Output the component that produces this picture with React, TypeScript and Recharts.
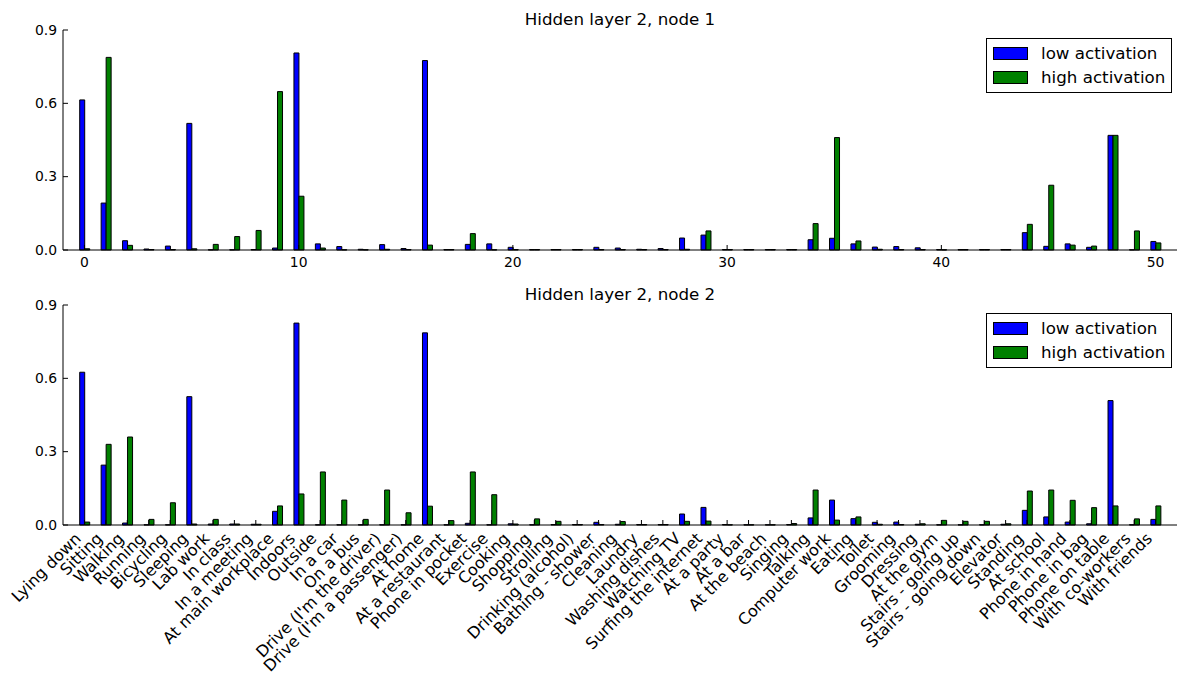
import { Bar, BarChart, Legend, XAxis, YAxis } from "recharts";

const FONT = "'DejaVu Sans', sans-serif";

const activities = [
  "Lying down", "Sitting", "Walking", "Running", "Bicycling", "Sleeping", "Lab work",
  "In class", "In a meeting", "At main workplace", "Indoors", "Outside", "In a car",
  "On a bus", "Drive (I'm the driver)", "Drive (I'm a passenger)", "At home",
  "At a restaurant", "Phone in pocket", "Exercise", "Cooking", "Shopping", "Strolling",
  "Drinking (alcohol)", "Bathing - shower", "Cleaning", "Laundry", "Washing dishes",
  "Watching TV", "Surfing the internet", "At a party", "At a bar", "At the beach",
  "Singing", "Talking", "Computer work", "Eating", "Toilet", "Grooming", "Dressing",
  "At the gym", "Stairs - going up", "Stairs - going down", "Elevator", "Standing",
  "At school", "Phone in hand", "Phone in bag", "Phone on table", "With co-workers",
  "With friends",
];

// hidden layer 2, node 1
const node1Low = [
  0.614, 0.192, 0.038, 0.004, 0.016, 0.518, 0.001, 0.001, 0.002, 0.008,
  0.806, 0.025, 0.014, 0.003, 0.022, 0.006, 0.775, 0.002, 0.023, 0.025,
  0.011, 0.002, 0.002, 0.002, 0.011, 0.008, 0.003, 0.006, 0.049, 0.061,
  0.002, 0.002, 0.002, 0.002, 0.042, 0.048, 0.025, 0.012, 0.014, 0.009,
  0.002, 0.002, 0.002, 0.002, 0.071, 0.015, 0.025, 0.011, 0.469, 0.001,
  0.035,
];
const node1High = [
  0.005, 0.788, 0.019, 0.002, 0.002, 0.005, 0.023, 0.055, 0.08, 0.648,
  0.22, 0.008, 0.001, 0.001, 0.003, 0.002, 0.02, 0.002, 0.067, 0.001,
  0.002, 0.002, 0.002, 0.002, 0.002, 0.002, 0.002, 0.002, 0.003, 0.078,
  0.002, 0.002, 0.002, 0.002, 0.108, 0.46, 0.037, 0.003, 0.002, 0.002,
  0.001, 0.002, 0.002, 0.002, 0.105, 0.265, 0.02, 0.016, 0.469, 0.078,
  0.029,
];

// hidden layer 2, node 2
const node2Low = [
  0.625, 0.245, 0.008, 0.001, 0.001, 0.525, 0.004, 0.004, 0.003, 0.056,
  0.826, 0.001, 0.001, 0.001, 0.001, 0.001, 0.786, 0.001, 0.007, 0.001,
  0.005, 0.001, 0.002, 0.002, 0.011, 0.003, 0.002, 0.002, 0.045, 0.072,
  0.002, 0.001, 0.001, 0.002, 0.029, 0.102, 0.026, 0.011, 0.012, 0.003,
  0.001, 0.001, 0.001, 0.003, 0.06, 0.033, 0.012, 0.005, 0.509, 0.001,
  0.023,
];
const node2High = [
  0.012, 0.33, 0.36, 0.023, 0.091, 0.004, 0.023, 0.004, 0.003, 0.078,
  0.127, 0.217, 0.102, 0.023, 0.143, 0.05, 0.077, 0.018, 0.217, 0.124,
  0.004, 0.025, 0.015, 0.002, 0.002, 0.014, 0.002, 0.002, 0.015, 0.016,
  0.001, 0.001, 0.001, 0.006, 0.143, 0.02, 0.033, 0.003, 0.002, 0.005,
  0.019, 0.015, 0.015, 0.005, 0.139, 0.143, 0.101, 0.071, 0.078, 0.025,
  0.078,
];

const yTicks = [0, 0.3, 0.6, 0.9];
const seriesOrder = ["low", "high"];

const W = 1178;
const PLOT_W = 1114; // 63 .. 1177
const HALF_STEP = PLOT_W / 52 / 2;
const TICK = 5;

function LeftTick({ x, y, payload }: any) {
  return (
    <g>
      <line x1={x} x2={x + TICK} y1={y} y2={y} stroke="#000" />
      <text x={x - 6} y={y} dy={4.6} textAnchor="end" fontSize={13.9} fontFamily={FONT} fill="#000">
        {Number(payload.value).toFixed(1)}
      </text>
    </g>
  );
}

function RightTick({ x, y }: any) {
  return <line x1={x} x2={x - TICK} y1={y} y2={y} stroke="#000" />;
}

function TopTick({ x, y }: any) {
  return <line x1={x} x2={x} y1={y} y2={y + TICK} stroke="#000" />;
}

function NumberTick({ x, y, payload }: any) {
  return (
    <g>
      <line x1={x} x2={x} y1={y} y2={y - TICK} stroke="#000" />
      <text x={x} y={y + 17} textAnchor="middle" fontSize={13.9} fontFamily={FONT} fill="#000">
        {payload.value}
      </text>
    </g>
  );
}

function NameTick({ x, y, payload }: any) {
  const ax = x - 2.5;
  const ay = y + 14.5;
  return (
    <g>
      <line x1={x} x2={x} y1={y} y2={y - TICK} stroke="#000" />
      <text
        x={ax}
        y={ay}
        textAnchor="end"
        transform={`rotate(-45, ${ax}, ${ay})`}
        fontSize={16}
        fontFamily={FONT}
        fill="#000"
      >
        {payload.value}
      </text>
    </g>
  );
}

function LegendBox({ payload }: any) {
  const items = [...(payload || [])].sort(
    (a: any, b: any) => seriesOrder.indexOf(a.dataKey) - seriesOrder.indexOf(b.dataKey)
  );
  return (
    <div
      style={{
        boxSizing: "border-box",
        width: 186,
        height: 55,
        border: "1px solid #000",
        background: "#fff",
        padding: "2px 0 0 6px",
        fontFamily: FONT,
        fontSize: 16.7,
        color: "#000",
      }}
    >
      {items.map((p: any) => (
        <div key={p.value} style={{ display: "flex", alignItems: "center", height: 24 }}>
          <span
            style={{
              display: "inline-block",
              width: 33,
              height: 11,
              background: p.color,
              border: "1px solid #000",
            }}
          />
          <span style={{ marginLeft: 13, lineHeight: 1 }}>{p.value}</span>
        </div>
      ))}
    </div>
  );
}

interface PanelProps {
  title: string;
  low: number[];
  high: number[];
  named: boolean;
  top: number;
  height: number;
  xHeight: number;
}

function Panel({ title, low, high, named, top, height, xHeight }: PanelProps) {
  const data = activities.map((name, i) => ({ idx: i, name, low: low[i], high: high[i] }));
  const key = named ? "name" : "idx";
  const interval = named ? 0 : 9;
  return (
    <div style={{ position: "absolute", left: 0, top, width: W, height }}>
      <BarChart
        width={W}
        height={height}
        data={data}
        margin={{ top: 30, right: 1, bottom: 0, left: 0 }}
        barSize={5}
        barGap={0}
      >
        <XAxis
          dataKey={key}
          height={xHeight}
          interval={interval}
          padding={{ left: HALF_STEP, right: HALF_STEP }}
          tickSize={0}
          tickMargin={0}
          tickLine={false}
          axisLine={{ stroke: "#000" }}
          tick={named ? <NameTick /> : <NumberTick />}
        />
        <XAxis
          xAxisId="top"
          orientation="top"
          dataKey={key}
          height={0}
          interval={interval}
          padding={{ left: HALF_STEP, right: HALF_STEP }}
          tickSize={0}
          tickMargin={0}
          tickLine={false}
          axisLine={{ stroke: "#000" }}
          tick={<TopTick />}
        />
        <YAxis
          width={63}
          domain={[0, 0.9]}
          ticks={yTicks}
          interval={0}
          tickSize={0}
          tickMargin={0}
          tickLine={false}
          axisLine={{ stroke: "#000" }}
          tick={<LeftTick />}
        />
        <YAxis
          yAxisId="right"
          orientation="right"
          width={0}
          domain={[0, 0.9]}
          ticks={yTicks}
          interval={0}
          tickSize={0}
          tickMargin={0}
          tickLine={false}
          axisLine={{ stroke: "#000" }}
          tick={<RightTick />}
        />
        <Legend
          layout="vertical"
          align="center"
          verticalAlign="middle"
          content={<LegendBox />}
          wrapperStyle={{ top: 38, left: 986, width: 186, height: 55 }}
        />
        <Bar dataKey="low" name="low activation" fill="#0000ff" stroke="#000" strokeWidth={1} isAnimationActive={false} />
        <Bar dataKey="high" name="high activation" fill="#008000" stroke="#000" strokeWidth={1} isAnimationActive={false} />
      </BarChart>
      <div
        style={{
          position: "absolute",
          left: 63,
          top: 11,
          width: PLOT_W,
          textAlign: "center",
          fontFamily: FONT,
          fontSize: 16.7,
          lineHeight: 1,
          color: "#000",
        }}
      >
        {title}
      </div>
    </div>
  );
}

export default function App() {
  return (
    <div style={{ position: "absolute", left: 0, top: 0, width: W, height: 682, background: "#fff" }}>
      <Panel title="Hidden layer 2, node 1" low={node1Low} high={node1High} named={false} top={0} height={280} xHeight={30} />
      <Panel title="Hidden layer 2, node 2" low={node2Low} high={node2High} named={true} top={275} height={407} xHeight={157} />
    </div>
  );
}
